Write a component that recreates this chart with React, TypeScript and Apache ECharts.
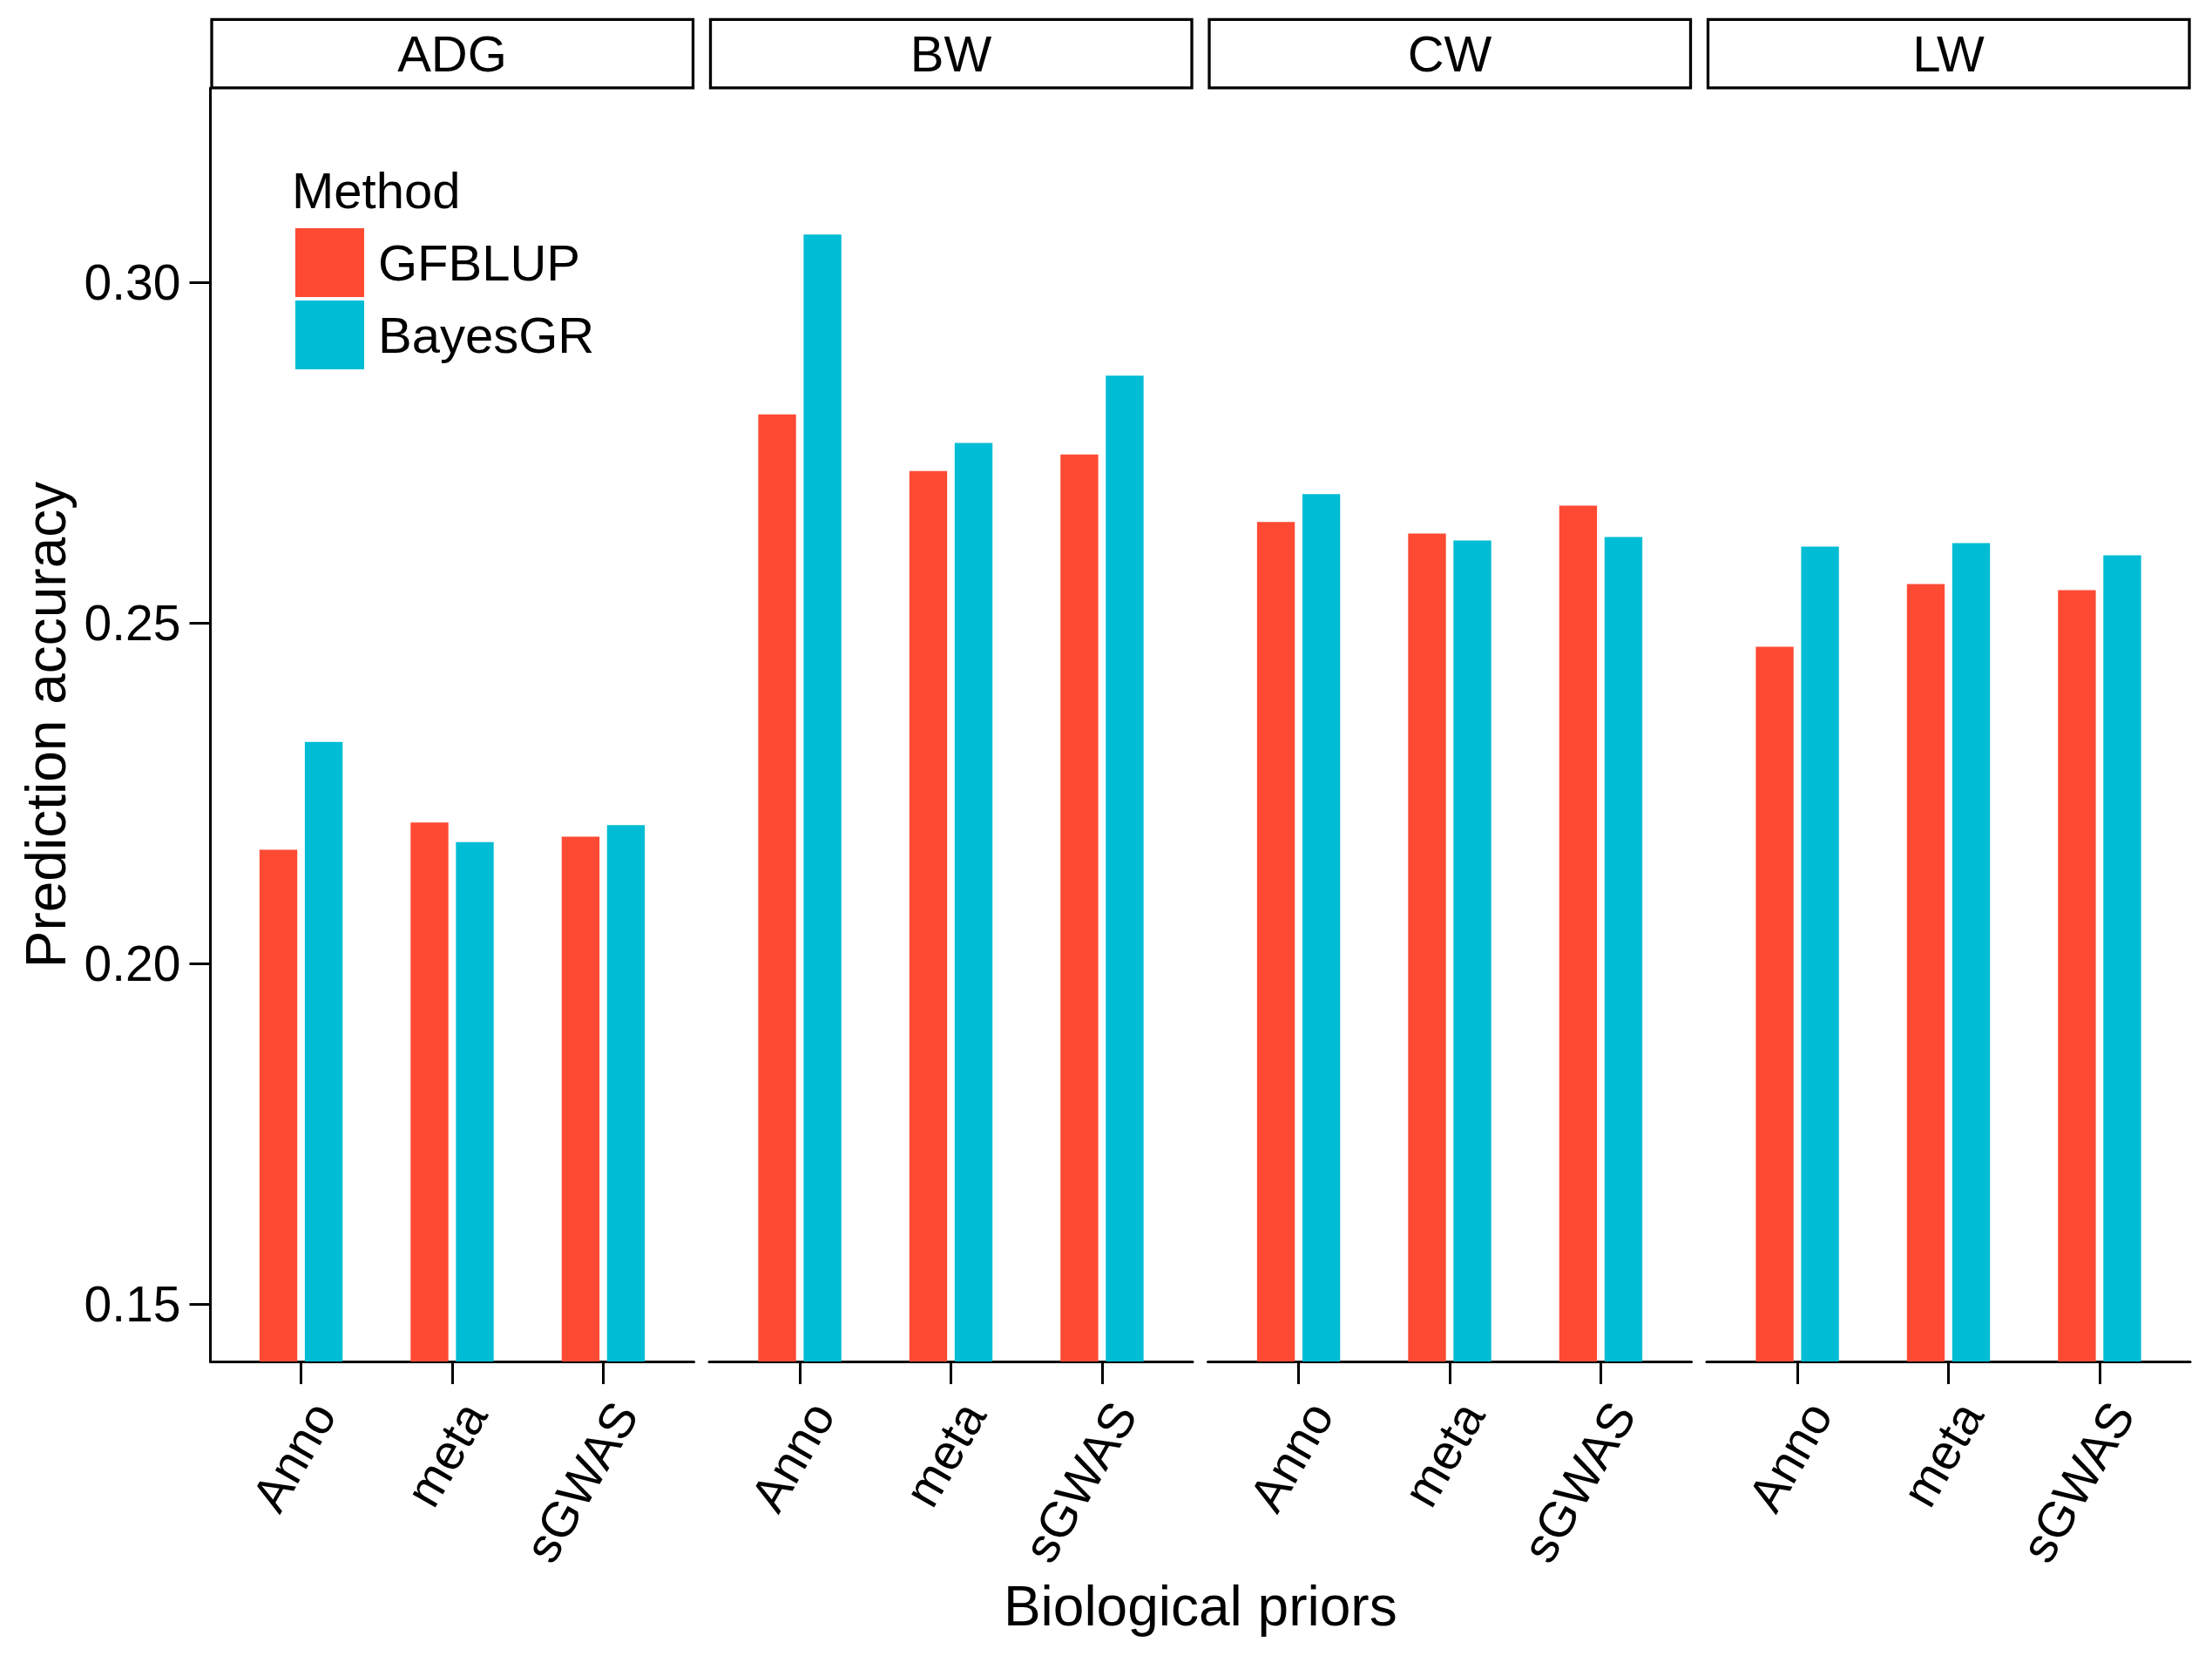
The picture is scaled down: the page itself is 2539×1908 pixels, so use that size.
import React, { useEffect, useRef } from "react";
import * as echarts from "echarts";

const traits = ["ADG", "BW", "CW", "LW"];
const priors = ["Anno", "meta", "sGWAS"];
const methods = ["GFBLUP", "BayesGR"];
const methodColors = ["#FF4A33", "#00BCD5"];
const yTicks = [0.15, 0.2, 0.25, 0.3];

const gfblupADG = [0.2167, 0.2207, 0.2186];
const bayesADG = [0.2325, 0.2178, 0.2203];
const gfblupBW = [0.2806, 0.2723, 0.2747];
const bayesBW = [0.307, 0.2764, 0.2863];
const gfblupCW = [0.2648, 0.2631, 0.2672];
const bayesCW = [0.2689, 0.2621, 0.2626];
const gfblupLW = [0.2465, 0.2557, 0.2548];
const bayesLW = [0.2612, 0.2617, 0.2599];

const gfblupByTrait = [gfblupADG, gfblupBW, gfblupCW, gfblupLW];
const bayesByTrait = [bayesADG, bayesBW, bayesCW, bayesLW];

const FONT = "'Liberation Sans', Arial, Helvetica, sans-serif";
const W = 2539;
const H = 1908;
const PANEL_LEFT = 241.5;
const PANEL_STEP = 572.5;
const PANEL_W = 555;
const PANEL_TOP = 101;
const PANEL_BOTTOM = 1563;
const Y_MIN = 0.14156;
const Y_MAX = 0.32852;
const X_MIN = 0.4;
const X_MAX = 3.6;
const BAR_W = (0.25 * PANEL_W) / (X_MAX - X_MIN);
const LINE_W = 3;

export default function App() {
  const ref = useRef<HTMLDivElement>(null);

  useEffect(() => {
    document.body.style.margin = "0";
    if (!ref.current) return;
    const chart = echarts.init(ref.current, null, { renderer: "svg", width: W, height: H });

    const grids: any[] = [];
    const xAxes: any[] = [];
    const yAxes: any[] = [];
    const series: any[] = [];
    const graphics: any[] = [];

    traits.forEach((t, i) => {
      const left = PANEL_LEFT + i * PANEL_STEP;
      grids.push({
        left,
        top: PANEL_TOP,
        width: PANEL_W,
        height: PANEL_BOTTOM - PANEL_TOP,
        containLabel: false,
      });
      xAxes.push({
        type: "value",
        gridIndex: i,
        min: X_MIN,
        max: X_MAX,
        splitLine: { show: false },
        axisLine: { show: true, onZero: false, lineStyle: { color: "#000", width: LINE_W } },
        axisTick: {
          show: true,
          customValues: [1, 2, 3],
          length: 26,
          lineStyle: { color: "#000", width: LINE_W },
        },
        axisLabel: {
          show: true,
          customValues: [1, 2, 3],
          formatter: (v: number) => priors[Math.round(v) - 1] ?? "",
          rotate: 60,
          margin: 37,
          verticalAlign: "top",
          fontSize: 57,
          color: "#000",
          fontFamily: FONT,
        },
      });
      yAxes.push({
        type: "value",
        gridIndex: i,
        min: Y_MIN,
        max: Y_MAX,
        show: i === 0,
        splitLine: { show: false },
        axisLine: { show: i === 0, onZero: false, lineStyle: { color: "#000", width: LINE_W } },
        axisTick: {
          show: i === 0,
          customValues: yTicks,
          length: 24,
          lineStyle: { color: "#000", width: LINE_W },
        },
        axisLabel: {
          show: i === 0,
          customValues: yTicks,
          formatter: (v: number) => v.toFixed(2),
          margin: 34,
          fontSize: 57,
          color: "#000",
          fontFamily: FONT,
        },
      });
      const g = gfblupByTrait[i];
      const b = bayesByTrait[i];
      series.push({
        type: "bar",
        name: methods[0],
        xAxisIndex: i,
        yAxisIndex: i,
        barWidth: BAR_W,
        barGap: "20%",
        itemStyle: { color: methodColors[0] },
        data: priors.map((_, j) => [j + 1, g[j]]),
      });
      series.push({
        type: "bar",
        name: methods[1],
        xAxisIndex: i,
        yAxisIndex: i,
        barWidth: BAR_W,
        barGap: "20%",
        itemStyle: { color: methodColors[1] },
        data: priors.map((_, j) => [j + 1, b[j]]),
      });

      graphics.push({
        type: "rect",
        shape: { x: left + 1.5, y: 22.3, width: PANEL_W - 2.5, height: 78.5 },
        style: { fill: "#fff", stroke: "#000", lineWidth: 3.3 },
      });
      graphics.push({
        type: "text",
        x: left + PANEL_W / 2,
        y: 61,
        style: {
          text: t,
          fontSize: 58,
          fontFamily: FONT,
          fill: "#000",
          align: "center",
          verticalAlign: "middle",
        },
      });
    });

    graphics.push({
      type: "text",
      x: 53,
      y: (PANEL_TOP + PANEL_BOTTOM) / 2,
      rotation: Math.PI / 2,
      style: {
        text: "Prediction accuracy",
        fontSize: 64,
        fontFamily: FONT,
        fill: "#000",
        align: "center",
        verticalAlign: "middle",
      },
    });
    graphics.push({
      type: "text",
      x: (PANEL_LEFT + PANEL_LEFT + 3 * PANEL_STEP + PANEL_W) / 2,
      y: 1844,
      style: {
        text: "Biological priors",
        fontSize: 64,
        fontFamily: FONT,
        fill: "#000",
        align: "center",
        verticalAlign: "middle",
      },
    });
    graphics.push({
      type: "text",
      x: 335,
      y: 218,
      style: {
        text: "Method",
        fontSize: 58,
        fontFamily: FONT,
        fill: "#000",
        align: "left",
        verticalAlign: "middle",
      },
    });

    chart.setOption({
      animation: false,
      backgroundColor: "#fff",
      grid: grids,
      xAxis: xAxes,
      yAxis: yAxes,
      series,
      legend: {
        data: methods,
        orient: "vertical",
        left: 339,
        top: 262,
        itemWidth: 79,
        itemHeight: 79,
        itemGap: 4,
        icon: "rect",
        selectedMode: false,
        padding: 0,
        textStyle: {
          fontSize: 58,
          color: "#000",
          fontFamily: FONT,
          padding: [0, 0, 0, 11],
        },
      },
      graphic: graphics,
    });

    return () => chart.dispose();
  }, []);

  return <div ref={ref} style={{ width: W, height: H }} />;
}
